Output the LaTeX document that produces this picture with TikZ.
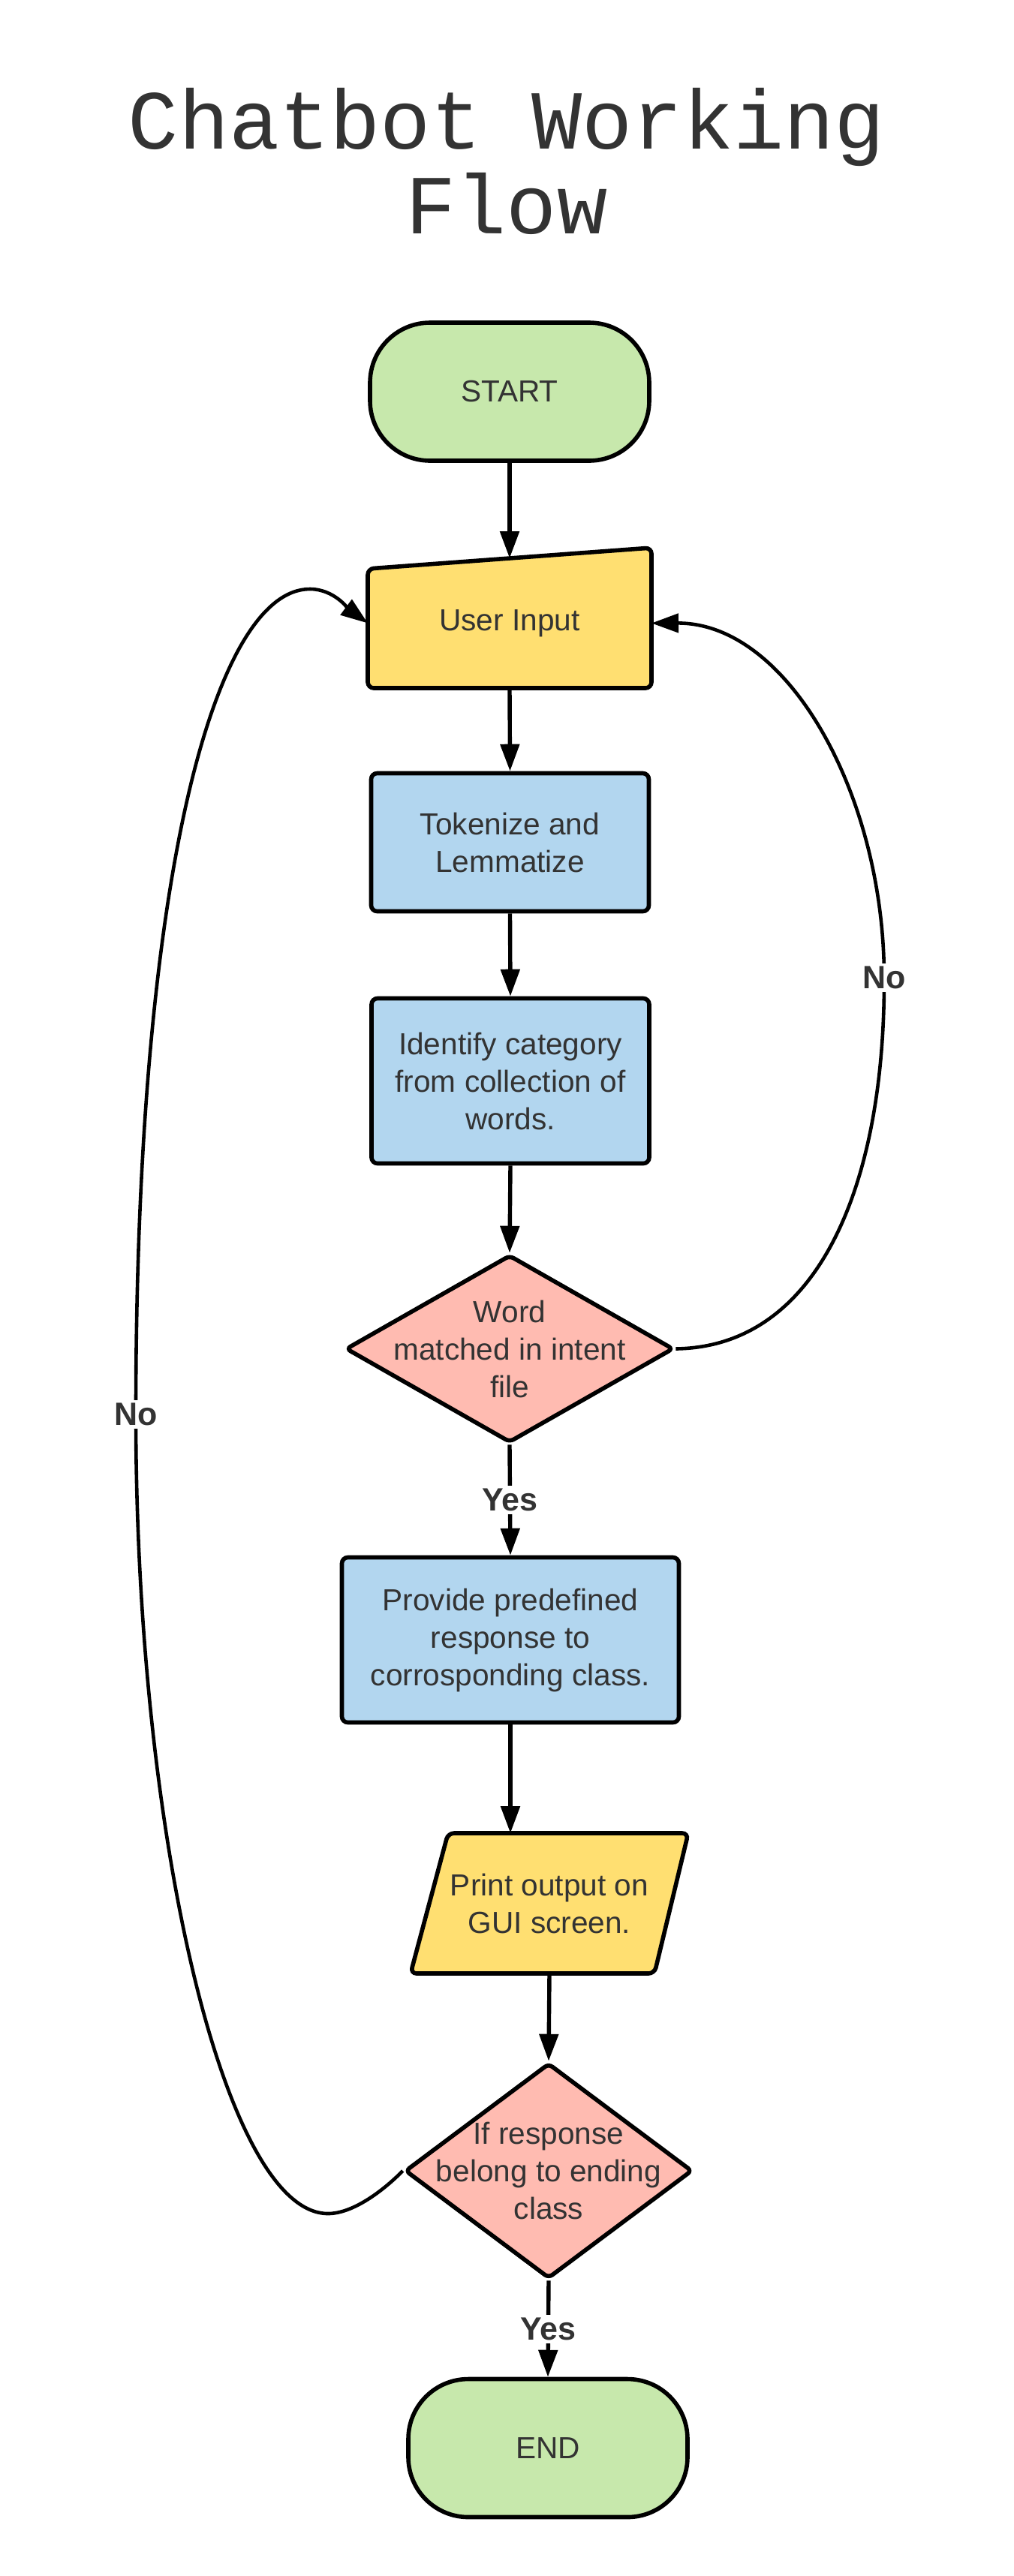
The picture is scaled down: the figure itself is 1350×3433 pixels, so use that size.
\documentclass[tikz,border=0pt]{standalone}
\usepackage{fontspec}
\setmainfont{Liberation Sans}
\newfontfamily\titlefont{Liberation Mono}
\usetikzlibrary{shapes.geometric,arrows.meta}

\definecolor{startgreen}{HTML}{C7E8AC}
\definecolor{inputyellow}{HTML}{FFDF71}
\definecolor{stepblue}{HTML}{B2D6EF}
\definecolor{checkpink}{HTML}{FFBBB1}
\definecolor{textgray}{HTML}{333333}

\begin{document}
\begin{tikzpicture}[
	x=0.5pt, y=-0.5pt,
	every node/.style={
		text=textgray,
		align=center,
		font=\fontsize{20.3}{25}\selectfont
	},
	terminal/.style={
		rectangle,
		draw=black,
		line width=2.8pt,
		rounded corners=40pt,
		fill=startgreen,
		minimum width=186pt,
		minimum height=92pt
	},
	process/.style={
		rectangle,
		draw=black,
		line width=2.8pt,
		rounded corners=4pt,
		fill=stepblue,
		minimum width=185pt,
		minimum height=92pt
	},
	decision/.style={
		diamond,
		draw=black,
		line width=2.8pt,
		rounded corners=3pt,
		fill=checkpink,
		inner sep=0pt
	},
	manual/.style={
		draw=black,
		line width=2.8pt,
		rounded corners=4pt,
		fill=inputyellow
	},
	textonly/.style={
		inner sep=0pt,
		outer sep=0pt
	},
	flow/.style={-{Triangle[length=18pt,width=12.5pt]}, line width=2.7pt},
	backflow/.style={-{Triangle[length=18pt,width=12.5pt]}, line width=2.3pt},
	answer/.style={fill=white, inner sep=2pt, font=\fontsize{21.5}{25}\selectfont\bfseries},
]

\path[fill=white, use as bounding box] (0,0) rectangle (1350,3433);

\node[font=\titlefont\fontsize{56}{56.5}\selectfont] (title) at (675,215) {Chatbot Working\\Flow};

\node[terminal] (start) at (679,522) {START};

% user input has a slanted top, so its outline is drawn by hand
\draw[manual] (490,758) -- (868,730) -- (868,917) -- (490,917) -- cycle;
\node[textonly, minimum width=189pt, minimum height=86.5pt] (input) at (679,830.5) {User Input};

\node[process] (token) at (679.5,1122.5) {Tokenize and\\Lemmatize};
\node[process, minimum height=110pt] (ident) at (680,1440.5) {Identify category\\from collection of\\words.};
\node[decision, minimum width=218.5pt, minimum height=125pt,
	label={center:Word\\matched in intent\\file}] (d1) at (679,1797.5) {};
\node[process, minimum width=224.5pt, minimum height=110pt] (provide) at (680,2185.5) {Provide predefined\\response to\\corrosponding class.};

% the output box is a slanted parallelogram
\draw[manual] (597,2443) -- (917,2443) -- (872,2630) -- (547,2630) -- cycle;
\node[textonly, minimum width=185pt, minimum height=93.5pt] (print) at (732,2536.5) {Print output on\\GUI screen.};

\node[decision, minimum width=191.5pt, minimum height=143.5pt,
	label={center:If response\\belong to ending\\class}] (d2) at (731,2893) {};
\node[terminal] (stop) at (730,3262.5) {END};

\foreach \a/\b in {start/input, input/token, token/ident, ident/d1, print/d2}
	\draw[flow] (\a.south) -- (\b.north);

\draw[flow] (provide.south) -- (provide.south |- print.north);
\draw[flow] (d1.south) -- node[answer] (yes1) {Yes} (provide.north);
\draw[flow] (d2.south) -- node[answer] (yes2) {Yes} (stop.north);

% the two "No" loops back to the input
\draw[backflow] (d1.east) .. controls (1090,1795) and (1179,1580) .. (1178,1303) node[answer] (no1) {No}
	.. controls (1178,1060) and (1050,830) .. (input.east);
\draw[backflow] (d2.west) .. controls (510,2920) and (470,2950) .. (437,2950)
	.. controls (300,2950) and (181,2450) .. (181,1885) node[answer] (no2) {No}
	.. controls (181,1150) and (290,785) .. (413,785)
	.. controls (445,785) and (465,812) .. (input.west);

\end{tikzpicture}
\end{document}
